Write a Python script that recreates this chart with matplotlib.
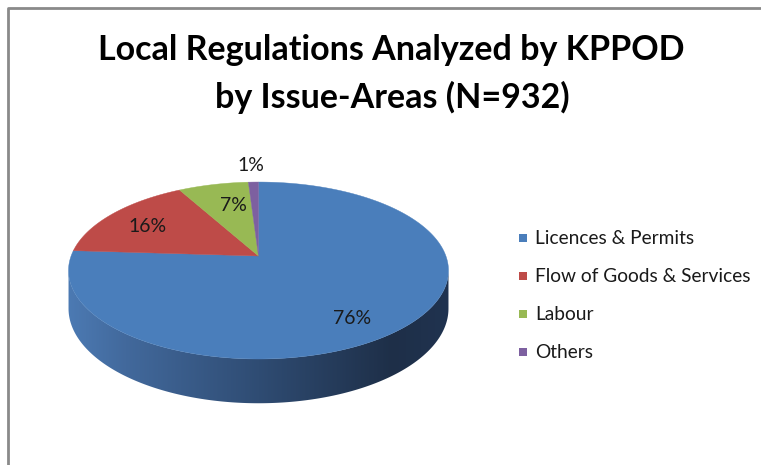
import numpy as np
import matplotlib
matplotlib.use("Agg")
import matplotlib.pyplot as plt
from matplotlib.patches import Polygon, Rectangle
from matplotlib.colors import LinearSegmentedColormap

# ---- data ----
categories = ["Licences & Permits", "Flow of Goods & Services", "Labour", "Others"]
shares = [76, 16, 7, 1]
colors = ["#4A7EBB", "#BE4B48", "#98B954", "#7D60A0"]
title = "Local Regulations Analyzed by KPPOD\nby Issue-Areas (N=932)"

W, H = 761, 465
fig = plt.figure(figsize=(W / 100, H / 100), dpi=100)
ax = fig.add_axes([0, 0, 1, 1])
ax.set_xlim(0, W)
ax.set_ylim(H, 0)
ax.axis("off")

FONT = ["Lato", "DejaVu Sans"]

# frame
ax.plot([7.5, 7.5, W + 5], [H + 5, 8.5, 8.5], color="#8A8A8A", lw=2, solid_capstyle="butt")

# pie geometry (layout) with a simple perspective tilt
cx, cy = 258.5, 256.0      # apex of the pie
A, B, k = 187.4, 86.1, 0.164
D = 37.0                    # thickness


def pt(theta, drop=0.0):
    u, v = np.sin(theta), np.cos(theta)   # v>0 = far side
    s = 1.0 / (1.0 + k * v)
    return cx + A * u * s, cy - B * v * s + drop * s


# side (front) with horizontal gradient
t_r = np.arccos(-k)
th = np.linspace(t_r, 2 * np.pi - t_r, 300)
xs, ys = pt(th)
xb, yb = pt(th, D)
side = np.concatenate([np.column_stack([xs, ys]),
                       np.column_stack([xb[::-1], yb[::-1]])])
side_patch = Polygon(side, closed=True, facecolor="none", edgecolor="none")
ax.add_patch(side_patch)
cmap = LinearSegmentedColormap.from_list(
    "side", [(0.0, "#4C7AB3"), (0.15, "#42699C"), (0.5, "#2F4C73"),
             (0.85, "#1E2F48"), (1.0, "#203350")])
grad = np.linspace(0, 1, 256).reshape(1, -1)
im = ax.imshow(grad, cmap=cmap, extent=(cx - 191, cx + 191, 410, 250),
               aspect="auto", zorder=1, interpolation="bilinear")
im.set_clip_path(side_patch)

# top faces
total = float(sum(shares))
start = 0.0
for val, col in zip(shares, colors):
    frac = val / total
    t0, t1 = 2 * np.pi * start, 2 * np.pi * (start + frac)
    tt = np.linspace(t0, t1, max(4, int(500 * frac)))
    px, py = pt(tt)
    verts = np.column_stack([np.r_[cx, px], np.r_[cy, py]])
    ax.add_patch(Polygon(verts, closed=True, facecolor=col, edgecolor=col,
                         lw=0.3, zorder=2))
    start += frac

# data labels
label_pos = [(352, 318), (148, 226), (233, 205), (251, 165)]
for (lx, ly), v in zip(label_pos, shares):
    ax.text(lx, ly, f"{v}%", ha="center", va="center", fontsize=14,
            family=FONT, color="#1A1A1A", zorder=3)

# title
lines = title.split("\n")
ax.text(391.5, 50, lines[0], ha="center", va="center", fontsize=24.5,
        fontweight="bold", family=FONT, color="#000000")
ax.text(392, 97, lines[1], ha="center", va="center", fontsize=24.5,
        fontweight="bold", family=FONT, color="#000000")

# legend
leg_y = [238, 276, 314, 352]
for yy, cat, col in zip(leg_y, categories, colors):
    ax.add_patch(Rectangle((519, yy - 4), 8, 8, facecolor=col, edgecolor="none"))
    ax.text(535, yy, cat, ha="left", va="center", fontsize=13.8, family=FONT,
            color="#1A1A1A")

fig.savefig("out.png", dpi=100)
